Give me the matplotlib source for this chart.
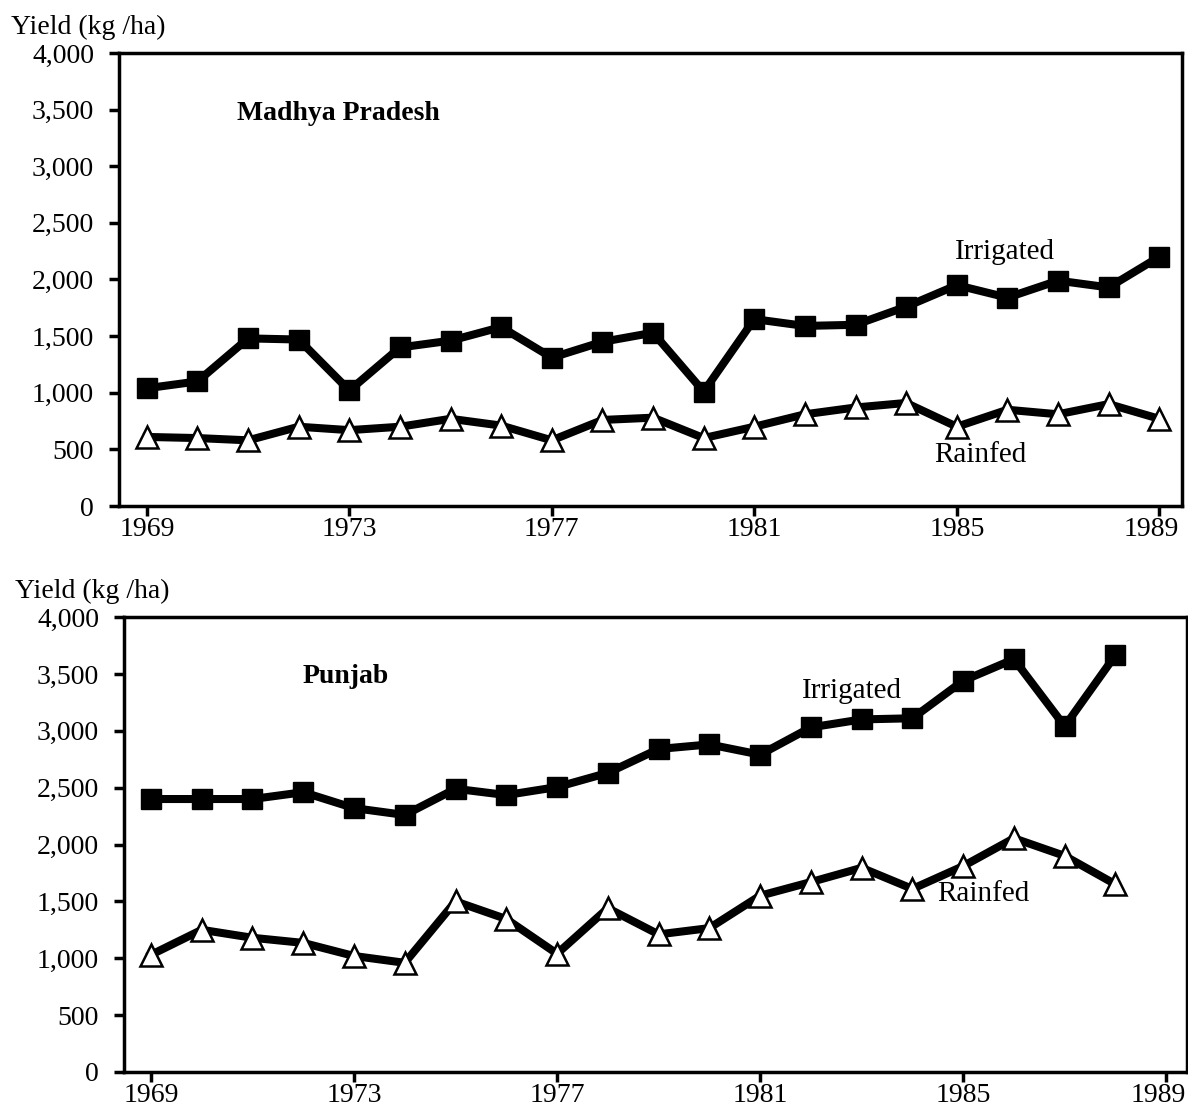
import matplotlib.pyplot as plt
import matplotlib.transforms as mtransforms

years_mp = list(range(1969, 1990))
mp_irrigated = [1040, 1100, 1480, 1470, 1020, 1400, 1460, 1580, 1310, 1450, 1530,
                1010, 1650, 1590, 1600, 1760, 1950, 1840, 1990, 1930, 2200]
mp_rainfed = [610, 600, 580, 700, 670, 700, 770, 710, 580, 760, 780,
              600, 700, 810, 870, 910, 700, 850, 810, 900, 770]

years_pb = list(range(1969, 1989))
pb_irrigated = [2400, 2400, 2400, 2460, 2320, 2260, 2490, 2435, 2505, 2630,
                2840, 2880, 2790, 3030, 3100, 3110, 3440, 3630, 3040, 3665]
pb_rainfed = [1030, 1250, 1180, 1135, 1020, 960, 1500, 1345, 1040, 1440,
              1210, 1265, 1550, 1670, 1795, 1610, 1810, 2055, 1900, 1650]

xticks = [1969, 1973, 1977, 1981, 1985, 1989]
yticks = [0, 500, 1000, 1500, 2000, 2500, 3000, 3500, 4000]

plt.rcParams['font.family'] = ['Liberation Serif', 'DejaVu Serif']

fig = plt.figure(figsize=(11.88, 11.08), dpi=100)
ax1 = fig.add_axes([0.1002, 0.5433, 0.8948, 0.4089])
ax2 = fig.add_axes([0.1044, 0.0325, 0.8948, 0.4106])


def draw(ax, years, irr, rain, title, title_xy, irr_xy, rain_xy):
    ax.plot(years, irr, color='black', lw=5.8, marker='s', ms=14,
            mfc='black', mec='black', zorder=3)
    ax.plot(years, rain, color='black', lw=5.8, marker='^', ms=15.5,
            mfc='white', mec='black', mew=1.8, zorder=3)
    ax.set_ylim(0, 4000)
    ax.set_yticks(yticks)
    ax.set_yticklabels([f'{v:,}' for v in yticks])
    ax.set_xticks(xticks)
    ax.set_xticklabels([str(v) for v in xticks])
    ax.tick_params(axis='both', direction='out', length=7, width=2.5,
                   labelsize=20)
    ax.tick_params(axis='y', pad=11)
    ax.tick_params(axis='x', pad=1)
    for s in ax.spines.values():
        s.set_linewidth(2.5)
    # last year label sits a bit left of its tick, as in the print
    last = ax.get_xticklabels()[-1]
    last.set_transform(last.get_transform() +
                       mtransforms.ScaledTranslation(-8 / 100, 0, fig.dpi_scale_trans))
    ax.text(*title_xy, title, transform=ax.transAxes, fontsize=20,
            fontweight='bold', va='center')
    ax.text(*irr_xy, 'Irrigated', transform=ax.transAxes, fontsize=21, va='center')
    ax.text(*rain_xy, 'Rainfed', transform=ax.transAxes, fontsize=21, va='center')


draw(ax1, years_mp, mp_irrigated, mp_rainfed, 'Madhya Pradesh',
     (0.111, 0.866), (0.786, 0.560), (0.767, 0.112))
ax1.set_xlim(1968.45, 1989.45)

draw(ax2, years_pb, pb_irrigated, pb_rainfed, 'Punjab',
     (0.168, 0.870), (0.638, 0.838), (0.765, 0.392))
ax2.set_xlim(1968.47, 1989.41)

fig.text(0.009, 0.975, 'Yield (kg /ha)', fontsize=20, va='center')
fig.text(0.013, 0.466, 'Yield (kg /ha)', fontsize=20, va='center')

fig.savefig('out.png', dpi=100)
